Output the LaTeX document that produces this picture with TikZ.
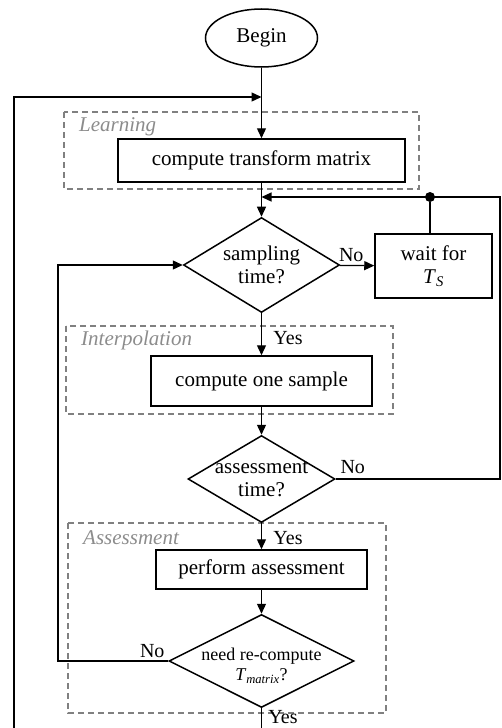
\documentclass[tikz,border=0pt]{standalone}
\usepackage{fontspec}
\setmainfont{Liberation Serif}
\usetikzlibrary{shapes.geometric,arrows.meta,calc,positioning}
\definecolor{groupgray}{RGB}{128,128,128}
\definecolor{labelgray}{RGB}{140,140,140}
\tikzstyle{flow}=[line width=1.3pt]
\tikzstyle{arrowflow}=[flow,-{Triangle[length=10pt,width=9pt]}]
\tikzstyle{process}=[draw,line width=1.5pt,rectangle,align=center,inner sep=0pt]
\tikzstyle{decision}=[draw,line width=1.5pt,diamond,align=center,inner sep=-6pt]
\tikzstyle{groupbox}=[draw=groupgray,line width=1.2pt,dash pattern=on 6pt off 4pt]
\tikzstyle{grouplabel}=[text=labelgray,font=\fontsize{21}{23}\selectfont\itshape,anchor=west,inner sep=0pt]
\tikzstyle{answer}=[inner sep=0pt,font=\fontsize{20}{22}\selectfont]
\newcommand{\drawgroup}[4]{

\draw[groupbox] (#2) rectangle (#3);
\node[grouplabel] (#1) at ($(#2)+(15,14.5)$) {#4};

}

\begin{document}
\begin{tikzpicture}[x=1pt,y=-1pt,every node/.append style={font=\fontsize{21}{23}\selectfont}]
	\useasboundingbox (0,0) rectangle (502,728);
	\begin{scope}
	\drawgroup{learning}{64,112}{419,189}{Learning}
	\drawgroup{interpolation}{66,326}{393,414}{Interpolation}
	\drawgroup{assessment}{68,523}{386,713}{Assessment}
	\node[draw,line width=1.5pt,ellipse,inner sep=0pt,minimum width=112pt,minimum height=58pt] (begin) at (261.5,38) {Begin};
	\node[process,minimum width=287pt,minimum height=43pt] (transform) at (261.5,160.5) {compute transform matrix};
	\node[decision,shape aspect=1.64,minimum width=156pt,minimum height=95pt] (sampling) at (261.5,265) {sampling\\time?};
	\node[process,minimum width=117pt,minimum height=64pt] (wait) at (433.5,266) {wait for\\\textit{T}\textsubscript{\textit{S}}};
	\node[process,minimum width=221pt,minimum height=50pt] (sample) at (261.5,381) {compute one sample};
	\node[decision,shape aspect=1.69,minimum width=147pt,minimum height=87pt] (assess) at (261.5,479) {assessment\\time?};
	\node[process,minimum width=211pt,minimum height=39pt] (perform) at (261.5,569.5) {perform assessment};
	\node[decision,shape aspect=1.99,minimum width=185pt,minimum height=93pt,font=\fontsize{18}{22}\selectfont] (recompute) at (261.5,661) {\rule{0pt}{22pt}need re-compute\\[-2pt]\textit{T}\textsubscript{\textit{matrix}}?};
	\node[circle,fill,inner sep=0pt,minimum size=10pt] (dot) at (430,197) {};
	\coordinate (loopin) at (261.5,97);
	\coordinate (outer) at (14,728);
	\coordinate (inner) at (58,0);
	\coordinate (right) at (500,0);
	\coordinate (bottom) at (0,728);

	\draw[arrowflow] (begin) -- (transform);
	\draw[arrowflow] (transform) -- (sampling);
	\draw[arrowflow] (sampling) -- (wait); %no
	\draw[flow] (wait.north -| dot) -- (dot);
	\draw[arrowflow] (sampling) -- (sample); %yes
	\draw[arrowflow] (sample) -- (assess);
	\draw[arrowflow] (assess.east) -- (assess.east -| right) -- (dot -| right) -- (transform.south |- dot); %no
	\draw[arrowflow] (assess) -- (perform); %yes
	\draw[arrowflow] (perform) -- (recompute);
	\draw[arrowflow] (recompute.west) -- (recompute.west -| inner) -- (sampling.west -| inner) -- (sampling.west); %no
	\draw[flow] (recompute.south) -- (recompute.south |- bottom); %yes
	\draw[arrowflow] (outer) -- (outer |- loopin) -- (loopin);

	\node[answer] (no1) at ($(sampling.east)+(11,-10)$) {No};
	\node[answer] (yes1) at ($(sampling.south)+(26.5,24.5)$) {Yes};
	\node[answer] (no2) at ($(assess.east)+(17,-12)$) {No};
	\node[answer] (yes2) at ($(assess.south)+(26.5,14.5)$) {Yes};
	\node[answer] (no3) at ($(recompute.west)+(-16,-10)$) {No};
	\node[answer] (yes3) at ($(recompute.south)+(21.5,9)$) {Yes};
	\end{scope}
\end{tikzpicture}
\end{document}
